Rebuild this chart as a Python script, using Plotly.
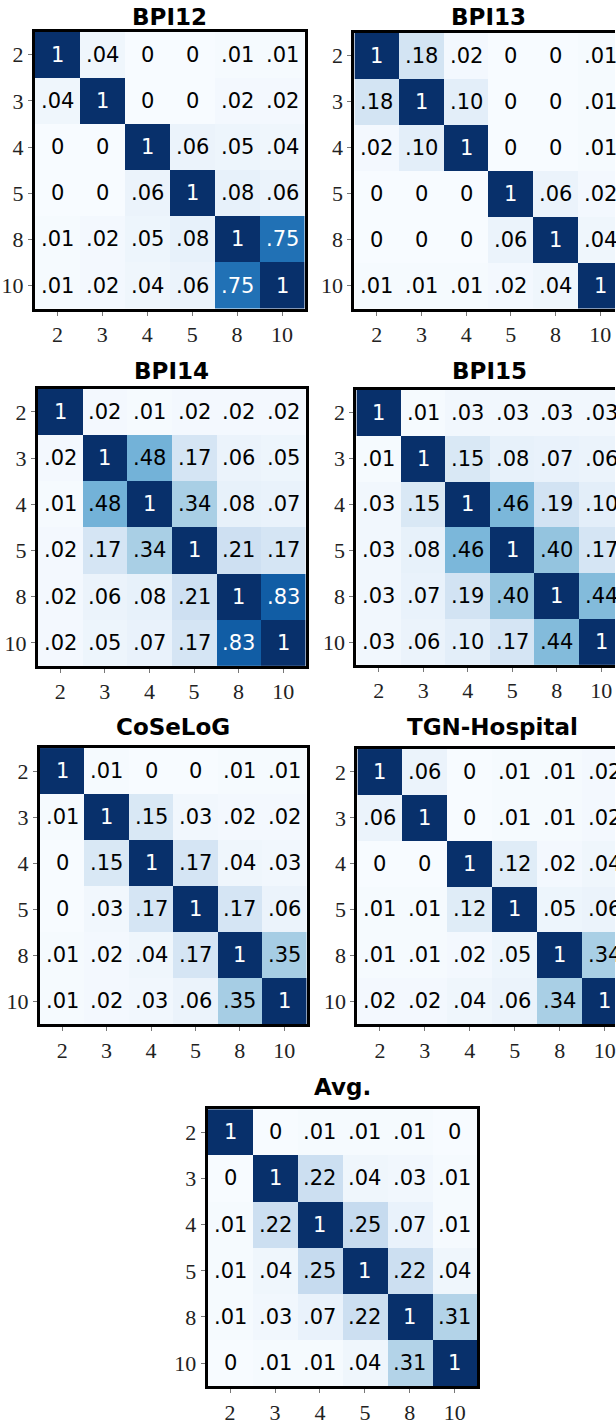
import plotly.graph_objects as go

# Window sizes compared in every panel
labels = ["2", "3", "4", "5", "8", "10"]

titles = ["BPI12", "BPI13", "BPI14", "BPI15", "CoSeLoG", "TGN-Hospital", "Avg."]

bpi12 = [
    [1, .04, 0, 0, .01, .01],
    [.04, 1, 0, 0, .02, .02],
    [0, 0, 1, .06, .05, .04],
    [0, 0, .06, 1, .08, .06],
    [.01, .02, .05, .08, 1, .75],
    [.01, .02, .04, .06, .75, 1],
]
bpi13 = [
    [1, .18, .02, 0, 0, .01],
    [.18, 1, .10, 0, 0, .01],
    [.02, .10, 1, 0, 0, .01],
    [0, 0, 0, 1, .06, .02],
    [0, 0, 0, .06, 1, .04],
    [.01, .01, .01, .02, .04, 1],
]
bpi14 = [
    [1, .02, .01, .02, .02, .02],
    [.02, 1, .48, .17, .06, .05],
    [.01, .48, 1, .34, .08, .07],
    [.02, .17, .34, 1, .21, .17],
    [.02, .06, .08, .21, 1, .83],
    [.02, .05, .07, .17, .83, 1],
]
bpi15 = [
    [1, .01, .03, .03, .03, .03],
    [.01, 1, .15, .08, .07, .06],
    [.03, .15, 1, .46, .19, .10],
    [.03, .08, .46, 1, .40, .17],
    [.03, .07, .19, .40, 1, .44],
    [.03, .06, .10, .17, .44, 1],
]
coselog = [
    [1, .01, 0, 0, .01, .01],
    [.01, 1, .15, .03, .02, .02],
    [0, .15, 1, .17, .04, .03],
    [0, .03, .17, 1, .17, .06],
    [.01, .02, .04, .17, 1, .35],
    [.01, .02, .03, .06, .35, 1],
]
tgn_hospital = [
    [1, .06, 0, .01, .01, .02],
    [.06, 1, 0, .01, .01, .02],
    [0, 0, 1, .12, .02, .04],
    [.01, .01, .12, 1, .05, .06],
    [.01, .01, .02, .05, 1, .34],
    [.02, .02, .04, .06, .34, 1],
]
avg = [
    [1, 0, .01, .01, .01, 0],
    [0, 1, .22, .04, .03, .01],
    [.01, .22, 1, .25, .07, .01],
    [.01, .04, .25, 1, .22, .04],
    [.01, .03, .07, .22, 1, .31],
    [0, .01, .01, .04, .31, 1],
]
matrices = [bpi12, bpi13, bpi14, bpi15, coselog, tgn_hospital, avg]

W, H = 616, 1425

# Panel boxes in pixels: left, right, top, bottom, visible right end of x range
panels = [
    (35, 305, 32, 312, 5.5),
    (355, 616, 33, 312, 5.33),
    (38, 306, 393, 673, 5.5),
    (357, 616, 394, 672, 5.31),
    (40, 307, 756, 1035, 5.5),
    (358, 616, 757, 1035, 5.23),
    (208, 478, 1121, 1401, 5.5),
]
title_y = [17, 17, 375, 375, 735, 735, 1099]

blues = [
    [0.0, "rgb(247,251,255)"], [0.125, "rgb(222,235,247)"],
    [0.25, "rgb(198,219,239)"], [0.375, "rgb(158,202,225)"],
    [0.5, "rgb(107,174,214)"], [0.625, "rgb(66,146,198)"],
    [0.75, "rgb(33,113,181)"], [0.875, "rgb(8,81,156)"],
    [1.0, "rgb(8,48,107)"],
]


def fmt(v):
    if v == 1:
        return "1"
    if v == 0:
        return "0"
    return f"{v:.2f}".lstrip("0")


fig = go.Figure()
layout = dict(
    width=W, height=H, margin=dict(l=0, r=0, t=0, b=0),
    paper_bgcolor="white", plot_bgcolor="white", showlegend=False,
)
annotations = []
idx = list(range(len(labels)))
tick_font = dict(family="Liberation Serif", size=22, color="#222")

for i, (mat, title, box) in enumerate(zip(matrices, titles, panels)):
    n = i + 1
    sx = "" if n == 1 else str(n)
    left, right, top, bottom, xr = box
    full_right = right == W
    fig.add_trace(go.Heatmap(
        z=mat, x=idx, y=idx, colorscale=blues, zmin=0, zmax=1,
        showscale=False, xgap=0, ygap=0, hoverinfo="skip",
        xaxis="x" + sx, yaxis="y" + sx,
    ))
    layout["xaxis" + sx] = dict(
        domain=[left / W, right / W], anchor="y" + sx,
        range=[-0.5, xr], tickvals=idx, ticktext=labels,
        ticks="outside", ticklen=4, tickwidth=1, tickcolor="#777",
        showline=True, linewidth=3, linecolor="black", mirror=True,
        showgrid=False, zeroline=False, fixedrange=True,
        tickfont=tick_font, ticklabeloverflow="allow",
    )
    # panels at the page's right edge show no right border
    layout["yaxis" + sx] = dict(
        domain=[1 - bottom / H, 1 - top / H], anchor="x" + sx,
        range=[5.5, -0.5], tickvals=idx, ticktext=labels,
        ticks="outside", ticklen=4, tickwidth=1, tickcolor="#777",
        showline=True, linewidth=3, linecolor="black",
        mirror=not full_right,
        showgrid=False, zeroline=False, fixedrange=True,
        tickfont=tick_font, ticklabeloverflow="allow",
    )
    for r, row in enumerate(mat):
        for c, v in enumerate(row):
            annotations.append(dict(
                x=c, y=r, xref="x" + sx, yref="y" + sx, text=fmt(v),
                showarrow=False,
                font=dict(family="DejaVu Sans", size=21,
                          color="white" if v > 0.5 else "black"),
            ))
    annotations.append(dict(
        x=2.5, xref="x" + sx, y=1 - title_y[i] / H, yref="paper",
        text=f"<b>{title}</b>", showarrow=False, yanchor="middle",
        font=dict(family="DejaVu Sans", size=23, color="black"),
    ))

layout["annotations"] = annotations
fig.update_layout(**layout)
fig.write_html("out.html")
